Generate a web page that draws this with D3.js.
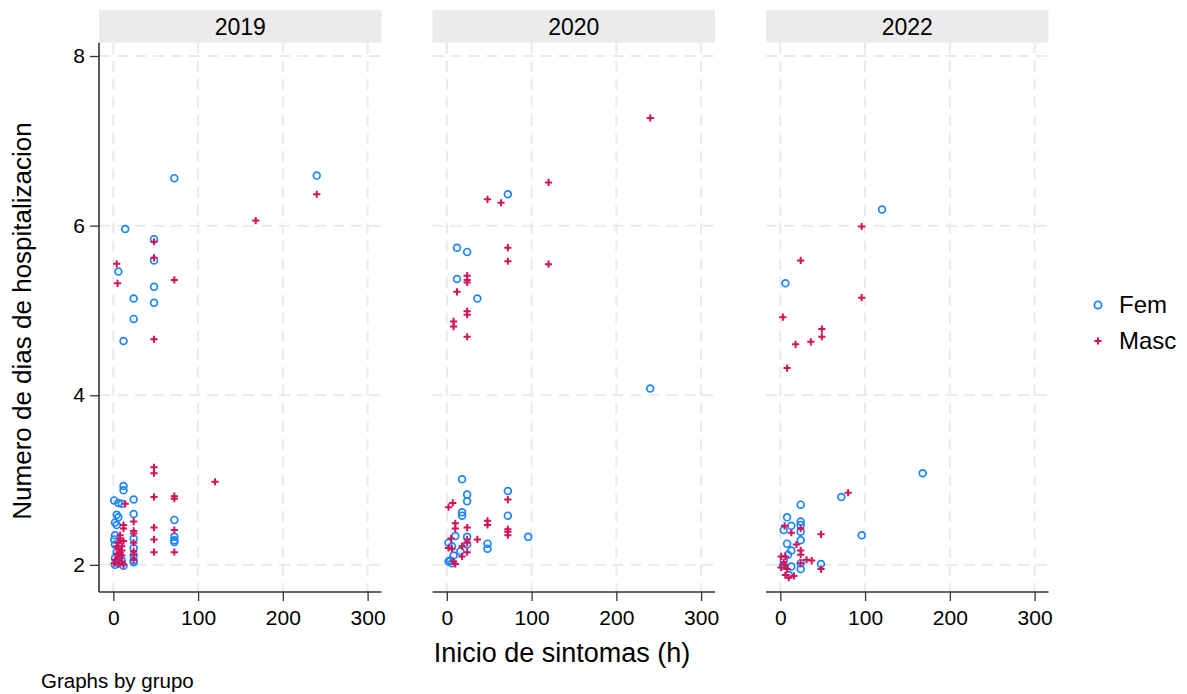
<!DOCTYPE html>
<meta charset="utf-8">
<title>Scatter by grupo</title>
<style>
  body { margin: 0; background: #fff; }
  text { font-family: "Liberation Sans", Arial, sans-serif; fill: #000; }
</style>
<body>
<script src="https://cdn.jsdelivr.net/npm/d3@7"></script>
<script>

var years = ["2019", "2020", "2022"];
var sexes = ["Fem", "Masc"];
var xTicks = [0, 100, 200, 300];
var yTicks = [2, 4, 6, 8];

// [inicio de sintomas (h), dias de hospitalizacion]
var fem2019 = [[72,6.56],[240,6.59],[14,5.96],[48,5.84],[48,5.59],[6,5.46],[48,5.28],[24,5.14],[48,5.09],[24,4.90],[12,4.64],
  [12,2.93],[12,2.88],[1,2.76],[6,2.73],[10,2.72],[24,2.77],[24,2.60],[4,2.59],[6,2.56],[2,2.50],[4,2.47],[72,2.53],
  [72,2.33],[72,2.29],[72,2.27],[24,2.31],[2,2.35],[24,2.20],[2,2.24],[2,2.08],[24,2.11],[2,2.00],[12,1.99],[24,2.03],
  [6,2.02],[24,2.05],[8,2.10],[4,2.15],[10,2.05],[1,2.30]];
var masc2019 = [[240,6.37],[168,6.06],[48,5.81],[48,5.62],[4,5.55],[5,5.32],[72,5.36],[48,4.66],
  [48,3.15],[48,3.08],[120,2.98],[48,2.80],[72,2.81],[72,2.78],[14,2.72],[24,2.51],[48,2.44],[72,2.41],[24,2.40],
  [24,2.37],[48,2.30],[24,2.26],[48,2.15],[72,2.15],[12,2.47],[12,2.43],[8,2.35],[8,2.31],[6,2.26],[24,2.16],[24,2.12],
  [24,2.06],[10,2.22],[6,2.19],[10,2.17],[4,2.13],[10,2.11],[6,2.08],[2,2.06],[10,2.04],[1,2.02],[6,2.01],[12,2.00],
  [8,2.14],[4,2.22],[12,2.28]];
var fem2020 = [[72,6.37],[12,5.74],[24,5.69],[12,5.37],[36,5.14],[240,4.08],
  [18,3.01],[24,2.83],[24,2.75],[72,2.87],[18,2.62],[18,2.58],[72,2.58],[96,2.33],[10,2.34],[24,2.33],[2,2.26],
  [6,2.22],[48,2.25],[48,2.19],[24,2.24],[8,2.11],[16,2.16],[4,2.05],[6,2.02],[2,2.04]];
var masc2020 = [[240,7.27],[120,6.51],[48,6.31],[64,6.27],[72,5.74],[72,5.58],[120,5.545],[24,5.41],[24,5.36],[24,5.33],
  [12,5.22],[24,4.99],[24,4.95],[8,4.87],[8,4.81],[24,4.69],
  [2,2.68],[7,2.73],[72,2.77],[10,2.49],[10,2.43],[24,2.44],[48,2.52],[48,2.47],[72,2.42],[72,2.39],[72,2.35],
  [36,2.30],[5,2.31],[24,2.30],[24,2.26],[2,2.20],[6,2.19],[18,2.22],[24,2.15],[18,2.10],[8,2.04],[10,2.01]];
var fem2022 = [[120,6.19],[6,5.32],[168,3.08],
  [96,2.35],[72,2.80],[24,2.71],[8,2.56],[4,2.41],[13,2.46],[24,2.51],[24,2.47],[24,2.39],[24,2.29],[8,2.25],
  [13,2.17],[9,2.12],[48,2.01],[24,1.95],[24,2.02],[13,1.98],[4,2.06],[3,1.99],[10,1.88]];
var masc2022 = [[96,5.99],[24,5.59],[96,5.15],[3,4.92],[49,4.78],[49,4.69],[36,4.63],[18,4.60],[8,4.32],
  [80,2.85],[5,2.46],[13,2.38],[24,2.43],[48,2.36],[19,2.24],[24,2.17],[24,2.12],[1,2.10],[31,2.06],[37,2.05],
  [48,1.95],[1,1.97],[5,2.00],[8,1.95],[6,1.88],[16,1.87],[10,1.85],[24,2.02],[6,2.10],[4,2.03]];

var panels = [
  {year: years[0], fem: fem2019, masc: masc2019},
  {year: years[1], fem: fem2020, masc: masc2020},
  {year: years[2], fem: fem2022, masc: masc2022}
];

var blue = "#1a85ff", red = "#d41159";
var gridColor = "#eaeaea";
var plusPath = "M-3.6,0H3.6M0,-3.6V3.6";

var width = 1187, height = 694;
var svg = d3.select("body").append("svg")
  .attr("width", width)
  .attr("height", height);

var panelLeft = 99, panelW = 282.5, panelStep = 333.5;
var headTop = 10, plotTop = 42.7, plotBottom = 592;

var x = d3.scaleLinear().domain([-16.9, 316.4]).range([0, panelW]);
var y = d3.scaleLinear().domain([1.68, 8.157]).range([plotBottom, plotTop]);

panels.forEach(function(p, i) {
  var g = svg.append("g").attr("transform", "translate(" + (panelLeft + i * panelStep) + ",0)");

  // header strip
  g.append("rect")
    .attr("x", 0).attr("y", headTop)
    .attr("width", panelW).attr("height", plotTop - headTop)
    .attr("fill", "#ebebeb");
  g.append("text")
    .attr("x", panelW / 2).attr("y", (headTop + plotTop) / 2 + 1)
    .attr("dy", ".35em")
    .attr("text-anchor", "middle")
    .style("font-size", "23px")
    .text(p.year);

  // grid
  g.selectAll(".gx").data(xTicks).enter().append("line")
    .attr("x1", function(d) { return x(d); }).attr("x2", function(d) { return x(d); })
    .attr("y1", plotTop).attr("y2", plotBottom)
    .attr("stroke", gridColor).attr("stroke-width", 2)
    .attr("stroke-dasharray", "11,7");
  g.selectAll(".gy").data(yTicks).enter().append("line")
    .attr("x1", 0).attr("x2", panelW)
    .attr("y1", function(d) { return y(d); }).attr("y2", function(d) { return y(d); })
    .attr("stroke", gridColor).attr("stroke-width", 2)
    .attr("stroke-dasharray", "11,7");

  // x axis
  var xa = g.append("g").attr("transform", "translate(0," + plotBottom + ")")
    .call(d3.axisBottom(x).tickValues(xTicks).tickSize(9).tickPadding(9));
  xa.select(".domain").attr("d", "M0,0H" + panelW).attr("stroke", "#333").attr("stroke-width", 1.6);
  xa.selectAll(".tick line").attr("stroke", "#333").attr("stroke-width", 1.3);
  xa.selectAll(".tick text")
    .style("font-size", "21px").attr("fill", "#000");

  if (i === 0) {
    var ya = g.append("g")
      .call(d3.axisLeft(y).tickValues(yTicks).tickFormat(d3.format("d")).tickSize(9).tickPadding(5));
    ya.select(".domain").attr("d", "M0," + plotTop + "V" + plotBottom).attr("stroke", "#333").attr("stroke-width", 1.6);
    ya.selectAll(".tick line").attr("stroke", "#333").attr("stroke-width", 1.3);
    ya.selectAll(".tick text")
      .style("font-size", "21px").attr("fill", "#000");
  }

  // points
  g.selectAll(".fem").data(p.fem).enter().append("circle")
    .attr("cx", function(d) { return x(d[0]); })
    .attr("cy", function(d) { return y(d[1]); })
    .attr("r", 3.4)
    .attr("fill", "none").attr("stroke", blue).attr("stroke-width", 1.7);
  g.selectAll(".masc").data(p.masc).enter().append("path")
    .attr("d", plusPath)
    .attr("transform", function(d) { return "translate(" + x(d[0]) + "," + y(d[1]) + ")"; })
    .attr("fill", "none").attr("stroke", red).attr("stroke-width", 2);
});

// axis titles
svg.append("text")
  .attr("transform", "translate(31,321) rotate(-90)")
  .attr("text-anchor", "middle")
  .style("font-size", "26px")
  .text("Numero de dias de hospitalizacion");

svg.append("text")
  .attr("x", 562).attr("y", 662)
  .attr("text-anchor", "middle")
  .style("font-size", "27px")
  .text("Inicio de sintomas (h)");

svg.append("text")
  .attr("x", 41).attr("y", 688)
  .style("font-size", "20.5px")
  .text("Graphs by grupo");

// legend
var legend = svg.append("g").attr("transform", "translate(1098,0)");
legend.append("circle")
  .attr("cx", 0).attr("cy", 305).attr("r", 3.6)
  .attr("fill", "none").attr("stroke", blue).attr("stroke-width", 1.8);
legend.append("path")
  .attr("d", plusPath)
  .attr("transform", "translate(0,341)")
  .attr("fill", "none").attr("stroke", red).attr("stroke-width", 2);
legend.selectAll(".lt").data(sexes).enter().append("text")
  .attr("x", 21)
  .attr("y", function(d, i) { return 305 + i * 36; })
  .attr("dy", ".35em")
  .style("font-size", "24px")
  .text(function(d) { return d; });

</script>
